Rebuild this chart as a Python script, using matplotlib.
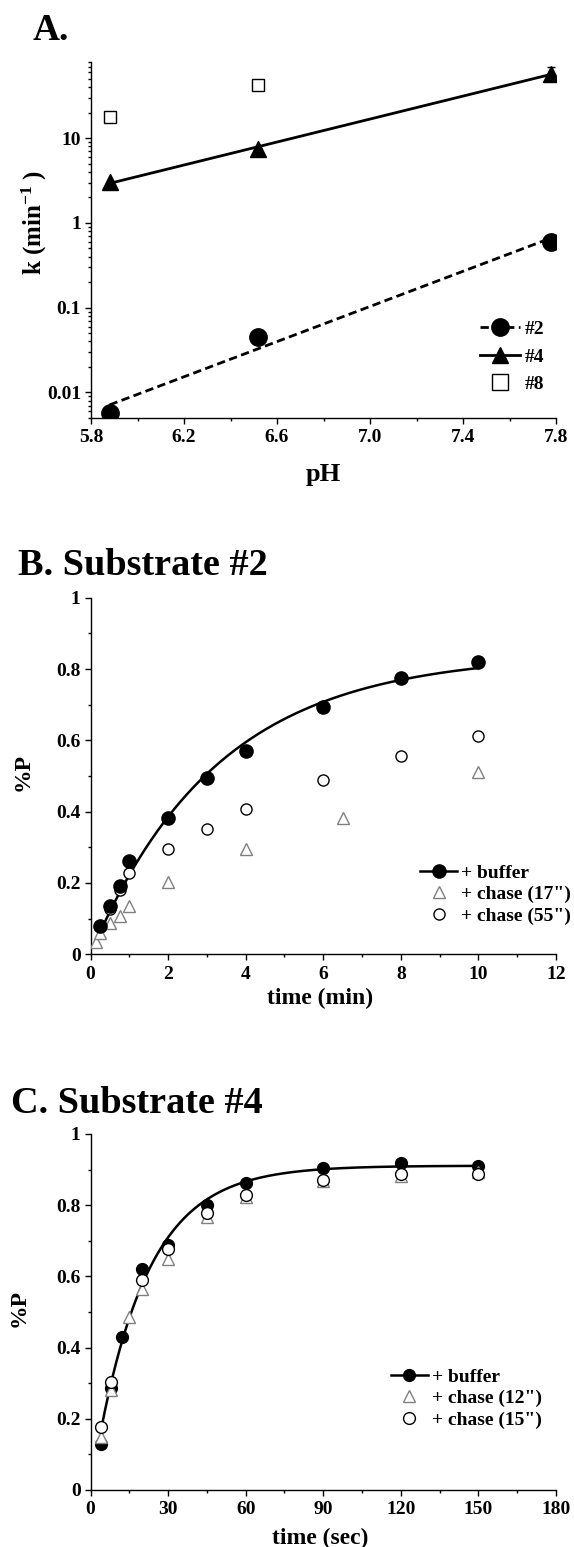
import numpy as np
import matplotlib
matplotlib.use("Agg")
import matplotlib.pyplot as plt
from matplotlib.lines import Line2D
from matplotlib.ticker import MultipleLocator, FuncFormatter, LogLocator, NullFormatter, FixedLocator

plt.rcParams.update({
    "font.family": ["Liberation Serif", "DejaVu Serif"],
    "font.weight": "bold",
    "axes.labelweight": "bold",
    "mathtext.fontset": "custom",
    "mathtext.rm": "Liberation Serif:bold",
    "mathtext.it": "Liberation Serif:bold:italic",
    "mathtext.bf": "Liberation Serif:bold",
    "axes.linewidth": 1.0,
    "xtick.major.width": 1.0, "ytick.major.width": 1.0,
    "xtick.minor.width": 1.0, "ytick.minor.width": 1.0,
    "xtick.major.size": 4.2, "ytick.major.size": 4.2,
    "xtick.minor.size": 2.4, "ytick.minor.size": 2.4,
    "xtick.direction": "out", "ytick.direction": "out",
    "xtick.labelsize": 14, "ytick.labelsize": 14,
    "xtick.major.pad": 4.0, "ytick.major.pad": 3,
})

# ---------------- data: panel A ----------------
ph = [5.88, 6.52, 7.78]
k_sub2 = [0.0058, 0.045, 0.60]
k_sub4 = [3.05, 7.5, 58.0]
k_sub4_err = [0.0, 0.0, 11.0]
ph_sub8 = [5.88, 6.52]
k_sub8 = [17.6, 43.0]
k_sub8_err = [0.8, 6.0]
ph_ticks = [5.8, 6.2, 6.6, 7.0, 7.4, 7.8]
k_ticks = [0.01, 0.1, 1, 10]
k_ticklabels = ["0.01", "0.1", "1", "10"]

# ---------------- data: panel B ----------------
t_buffer_b = [0.25, 0.5, 0.75, 1, 2, 3, 4, 6, 8, 10]
p_buffer_b = [0.078, 0.135, 0.19, 0.261, 0.383, 0.493, 0.569, 0.694, 0.776, 0.819]
t_chase17 = [0.15, 0.25, 0.5, 0.75, 1, 2, 4, 6.5, 10]
p_chase17 = [0.035, 0.06, 0.087, 0.107, 0.135, 0.202, 0.295, 0.383, 0.51]
t_chase55 = [0.5, 0.75, 1, 2, 3, 4, 6, 8, 10]
p_chase55 = [0.128, 0.18, 0.227, 0.294, 0.35, 0.406, 0.49, 0.556, 0.612]

# ---------------- data: panel C ----------------
t_buffer_c = [4, 8, 12, 20, 30, 45, 60, 90, 120, 150]
p_buffer_c = [0.13, 0.287, 0.43, 0.621, 0.687, 0.80, 0.862, 0.905, 0.919, 0.909]
t_chase12 = [4, 8, 15, 20, 30, 45, 60, 90, 120, 150]
p_chase12 = [0.15, 0.28, 0.486, 0.565, 0.648, 0.768, 0.822, 0.867, 0.883, 0.894]
t_chase15 = [4, 8, 20, 30, 45, 60, 90, 120, 150]
p_chase15 = [0.178, 0.304, 0.589, 0.676, 0.778, 0.829, 0.872, 0.888, 0.888]

GRAY = "#808080"


def fit_exp(t, y):
    """least-squares fit of y = A(1-exp(-k t))"""
    t = np.asarray(t, float)
    y = np.asarray(y, float)
    best = None
    for k in np.logspace(-3, 1, 6000):
        f = 1 - np.exp(-k * t)
        A = np.dot(f, y) / np.dot(f, f)
        r = np.sum((y - A * f) ** 2)
        if best is None or r < best[0]:
            best = (r, A, k)
    return best[1], best[2]


def style_axes(ax):
    ax.spines["top"].set_visible(False)
    ax.spines["right"].set_visible(False)
    for lab in ax.get_xticklabels() + ax.get_yticklabels():
        lab.set_fontweight("bold")


def p_fmt(v, pos):
    if abs(v) < 1e-9:
        return "0"
    if abs(v - 1) < 1e-9:
        return "1"
    return f"{v:.1f}"


fig = plt.figure(figsize=(5.74, 15.47), dpi=100)
W, H = 574.0, 1547.0


def add_ax(left, right, top, bottom):
    return fig.add_axes([left / W, 1 - bottom / H, (right - left) / W, (bottom - top) / H])


# ================= Panel A =================
axA = add_ax(91, 556, 61.7, 418)
axA.set_yscale("log")
axA.set_xlim(5.8, 7.8)
axA.set_ylim(0.005, 80)

xs = np.linspace(min(ph), max(ph), 50)
c2 = np.polyfit(ph, np.log10(k_sub2), 1)
c4 = np.polyfit(ph, np.log10(k_sub4), 1)
axA.plot(xs, 10 ** np.polyval(c2, xs), color="black", lw=2.0, ls=(0, (3, 1.6)), zorder=2)
axA.plot(xs, 10 ** np.polyval(c4, xs), color="black", lw=2.0, zorder=2)
axA.plot(ph, k_sub2, "o", color="black", ms=12.5, zorder=3)
axA.errorbar(ph, k_sub4, yerr=k_sub4_err, fmt="^", color="black", ms=12, capsize=3,
             elinewidth=1, capthick=1, zorder=3)
axA.errorbar(ph_sub8, k_sub8, yerr=k_sub8_err, fmt="s", mfc="white", mec="black", ecolor="black",
             mew=1.0, ms=8.5, capsize=2, elinewidth=1, capthick=1, zorder=3)

axA.xaxis.set_major_locator(FixedLocator(ph_ticks))
axA.xaxis.set_minor_locator(MultipleLocator(0.2))
axA.xaxis.set_major_formatter(FuncFormatter(lambda v, p: f"{v:.1f}"))
axA.yaxis.set_major_locator(FixedLocator(k_ticks))
axA.yaxis.set_major_formatter(FuncFormatter(lambda v, p: k_ticklabels[k_ticks.index(v)] if v in k_ticks else ""))
axA.yaxis.set_minor_locator(LogLocator(base=10, subs=np.arange(2, 10), numticks=20))
axA.yaxis.set_minor_formatter(NullFormatter())
style_axes(axA)
axA.set_xlabel("pH", fontsize=19, fontweight="bold")
axA.xaxis.set_label_coords(0.5, -0.125)
axA.set_ylabel(r"k (min$^{\mathrm{-1}}$ )", fontsize=18, fontweight="bold")
axA.yaxis.set_label_coords(-0.09, 0.55)

hA = [Line2D([], [], color="black", lw=2.0, ls=(0, (3, 1.6)), marker="o", ms=12.5),
      Line2D([], [], color="black", lw=2.0, marker="^", ms=12),
      Line2D([], [], ls="none", marker="s", mfc="white", mec="black", mew=1.0, ms=11.5)]
axA.legend(hA, ["#2", "#4", "#8"], loc="center left", bbox_to_anchor=(0.837, 0.172),
           frameon=False, handlelength=2.05, handletextpad=0.25,
           labelspacing=0.5, borderpad=0, borderaxespad=0,
           prop={"weight": "bold", "size": 14})

fig.text(33 / W, 1 - 40 / H, "A.", fontsize=27, fontweight="bold", va="baseline", ha="left")

# ================= Panel B =================
axB = add_ax(90.5, 556, 597.7, 954.2)
axB.set_xlim(0, 12)
axB.set_ylim(0, 1)
Ab, kb = fit_exp(t_buffer_b, p_buffer_b)
tb = np.linspace(min(t_buffer_b), max(t_buffer_b), 200)
axB.plot(tb, Ab * (1 - np.exp(-kb * tb)), color="black", lw=1.8, zorder=2)
axB.plot(t_chase17, p_chase17, "^", mfc="white", mec=GRAY, mew=1.0, ms=8, zorder=3)
axB.plot(t_chase55, p_chase55, "o", mfc="white", mec="black", mew=1.0, ms=8, zorder=3)
axB.plot(t_buffer_b, p_buffer_b, "o", color="black", ms=9.5, zorder=4)
axB.xaxis.set_major_locator(MultipleLocator(2))
axB.xaxis.set_minor_locator(MultipleLocator(1))
axB.yaxis.set_major_locator(MultipleLocator(0.2))
axB.yaxis.set_minor_locator(MultipleLocator(0.1))
axB.yaxis.set_major_formatter(FuncFormatter(p_fmt))
axB.xaxis.set_major_formatter(FuncFormatter(lambda v, p: f"{v:.0f}"))
style_axes(axB)
axB.set_xlabel("time (min)", fontsize=17, fontweight="bold")
axB.xaxis.set_label_coords(0.494, -0.095)
axB.set_ylabel("%P", fontsize=17, fontweight="bold")
axB.yaxis.set_label_coords(-0.123, 0.51)

hB = [Line2D([], [], color="black", lw=1.8, marker="o", ms=9.5),
      Line2D([], [], ls="none", marker="^", mfc="white", mec=GRAY, mew=1.0, ms=8),
      Line2D([], [], ls="none", marker="o", mfc="white", mec="black", mew=1.0, ms=8)]
axB.legend(hB, ["+ buffer", "+ chase (17\")", "+ chase (55\")"], loc="center left",
           bbox_to_anchor=(0.708, 0.168), frameon=False, handlelength=1.9,
           handletextpad=0.2, labelspacing=0.2, borderpad=0, borderaxespad=0,
           prop={"weight": "bold", "size": 14})

fig.text(18 / W, 1 - 575 / H, "B. Substrate #2", fontsize=27.5, fontweight="bold", va="baseline", ha="left")

# ================= Panel C =================
axC = add_ax(90.5, 556, 1134, 1490)
axC.set_xlim(0, 180)
axC.set_ylim(0, 1)
Ac, kc = fit_exp(t_buffer_c, p_buffer_c)
tc = np.linspace(min(t_buffer_c), max(t_buffer_c), 300)
axC.plot(tc, Ac * (1 - np.exp(-kc * tc)), color="black", lw=1.8, zorder=2)
axC.plot(t_buffer_c, p_buffer_c, "o", color="black", ms=8.5, zorder=3)
axC.plot(t_chase12, p_chase12, "^", mfc="white", mec=GRAY, mew=1.0, ms=8, zorder=4)
axC.plot(t_chase15, p_chase15, "o", mfc="white", mec="black", mew=1.0, ms=8.5, zorder=5)
axC.xaxis.set_major_locator(MultipleLocator(30))
axC.xaxis.set_minor_locator(MultipleLocator(15))
axC.yaxis.set_major_locator(MultipleLocator(0.2))
axC.yaxis.set_minor_locator(MultipleLocator(0.1))
axC.yaxis.set_major_formatter(FuncFormatter(p_fmt))
axC.xaxis.set_major_formatter(FuncFormatter(lambda v, p: f"{v:.0f}"))
style_axes(axC)
axC.set_xlabel("time (sec)", fontsize=17, fontweight="bold")
axC.xaxis.set_label_coords(0.494, -0.105)
axC.set_ylabel("%P", fontsize=17, fontweight="bold")
axC.yaxis.set_label_coords(-0.13, 0.51)

hC = [Line2D([], [], color="black", lw=1.8, marker="o", ms=8.5),
      Line2D([], [], ls="none", marker="^", mfc="white", mec=GRAY, mew=1.0, ms=8),
      Line2D([], [], ls="none", marker="o", mfc="white", mec="black", mew=1.0, ms=8.5)]
axC.legend(hC, ["+ buffer", "+ chase (12\")", "+ chase (15\")"], loc="center left",
           bbox_to_anchor=(0.6455, 0.257), frameon=False, handlelength=1.9,
           handletextpad=0.2, labelspacing=0.2, borderpad=0, borderaxespad=0,
           prop={"weight": "bold", "size": 14})

fig.text(11 / W, 1 - 1113 / H, "C. Substrate #4", fontsize=27.5, fontweight="bold", va="baseline", ha="left")

fig.savefig("out.png", dpi=100)
